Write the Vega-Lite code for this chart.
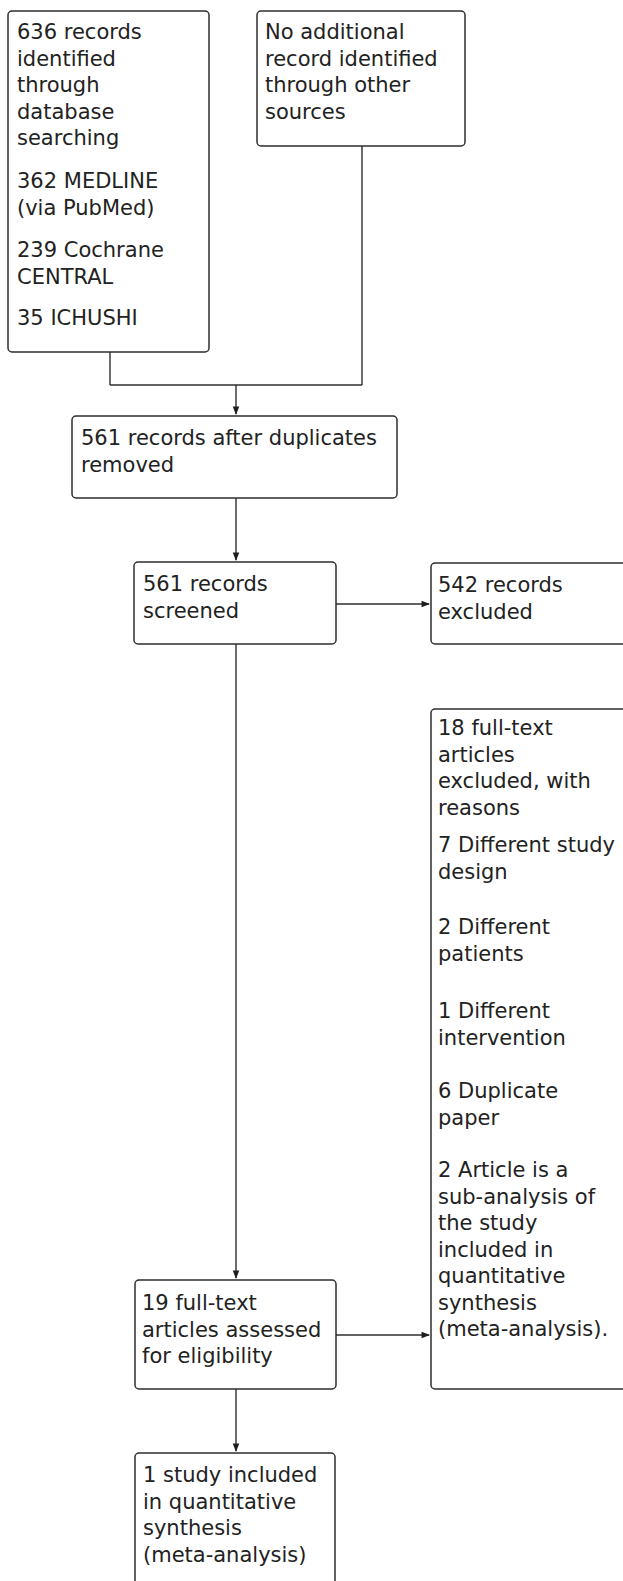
{
  "$schema": "https://vega.github.io/schema/vega-lite/v6.json",
  "width": 623,
  "height": 1581,
  "padding": 0,
  "autosize": {"type": "fit", "contains": "padding"},
  "background": "white",
  "config": {"view": {"stroke": null}},
  "datasets": {
    "boxes": [
      {"id": "db", "left": 8, "right": 209, "top": 11, "bottom": 352},
      {"id": "other", "left": 257, "right": 465, "top": 11, "bottom": 146},
      {"id": "dedup", "left": 72, "right": 397, "top": 416, "bottom": 498},
      {"id": "screened", "left": 134, "right": 336, "top": 562, "bottom": 644},
      {"id": "excluded", "left": 431, "right": 650, "top": 563, "bottom": 644},
      {"id": "ftexcluded", "left": 431, "right": 650, "top": 709, "bottom": 1389},
      {"id": "assessed", "left": 135, "right": 336, "top": 1280, "bottom": 1389},
      {"id": "included", "left": 135, "right": 335, "top": 1453, "bottom": 1610}
    ],
    "links": [
      {"xa": 110, "ya": 352, "xb": 110, "yb": 385},
      {"xa": 362, "ya": 146, "xb": 362, "yb": 385},
      {"xa": 110, "ya": 385, "xb": 362, "yb": 385},
      {"xa": 236, "ya": 385, "xb": 236, "yb": 414},
      {"xa": 236, "ya": 498, "xb": 236, "yb": 560},
      {"xa": 336, "ya": 604, "xb": 429, "yb": 604},
      {"xa": 236, "ya": 644, "xb": 236, "yb": 1278},
      {"xa": 336, "ya": 1335, "xb": 429, "yb": 1335},
      {"xa": 236, "ya": 1389, "xb": 236, "yb": 1451}
    ],
    "heads": [
      {"x": 236, "y": 415, "dir": "down"},
      {"x": 236, "y": 561, "dir": "down"},
      {"x": 430, "y": 604, "dir": "right"},
      {"x": 236, "y": 1279, "dir": "down"},
      {"x": 430, "y": 1335, "dir": "right"},
      {"x": 236, "y": 1452, "dir": "down"}
    ],
    "labels": [
      {"x": 17, "y": 39, "label": "636 records\nidentified\nthrough\ndatabase\nsearching"},
      {"x": 17, "y": 188, "label": "362 MEDLINE\n(via PubMed)"},
      {"x": 17, "y": 257, "label": "239 Cochrane\nCENTRAL"},
      {"x": 17, "y": 325, "label": "35 ICHUSHI"},
      {"x": 265, "y": 39, "label": "No additional\nrecord identified\nthrough other\nsources"},
      {"x": 81, "y": 445, "label": "561 records after duplicates\nremoved"},
      {"x": 143, "y": 591, "label": "561 records\nscreened"},
      {"x": 438, "y": 592, "label": "542 records\nexcluded"},
      {"x": 438, "y": 735, "label": "18 full-text\narticles\nexcluded, with\nreasons"},
      {"x": 438, "y": 852, "label": "7 Different study\ndesign"},
      {"x": 438, "y": 934, "label": "2 Different\npatients"},
      {"x": 438, "y": 1018, "label": "1 Different\nintervention"},
      {"x": 438, "y": 1098, "label": "6 Duplicate\npaper"},
      {"x": 438, "y": 1177, "label": "2 Article is a\nsub-analysis of\nthe study\nincluded in\nquantitative\nsynthesis\n(meta-analysis)."},
      {"x": 142, "y": 1310, "label": "19 full-text\narticles assessed\nfor eligibility"},
      {"x": 143, "y": 1482, "label": "1 study included\nin quantitative\nsynthesis\n(meta-analysis)"}
    ]
  },
  "layer": [
    {
      "data": {"name": "boxes"},
      "mark": {"type": "rect", "fill": "white", "stroke": "#2e2e2e", "strokeWidth": 1.5, "cornerRadius": 4, "clip": true},
      "encoding": {
        "x": {"field": "left", "type": "quantitative", "scale": {"domain": [0, 623], "nice": false, "zero": false}, "axis": null},
        "x2": {"field": "right"},
        "y": {"field": "top", "type": "quantitative", "scale": {"domain": [0, 1581], "nice": false, "zero": false, "reverse": true}, "axis": null},
        "y2": {"field": "bottom"}
      }
    },
    {
      "data": {"name": "links"},
      "mark": {"type": "rule", "stroke": "#2e2e2e", "strokeWidth": 1.4},
      "encoding": {
        "x": {"field": "xa", "type": "quantitative", "scale": {"domain": [0, 623], "nice": false, "zero": false}, "axis": null},
        "x2": {"field": "xb"},
        "y": {"field": "ya", "type": "quantitative", "scale": {"domain": [0, 1581], "nice": false, "zero": false, "reverse": true}, "axis": null},
        "y2": {"field": "yb"}
      }
    },
    {
      "data": {"name": "heads"},
      "mark": {"type": "point", "filled": true, "color": "#1e1e1e", "opacity": 1, "size": 42},
      "encoding": {
        "x": {"field": "x", "type": "quantitative", "scale": {"domain": [0, 623], "nice": false, "zero": false}, "axis": null},
        "y": {"field": "y", "type": "quantitative", "scale": {"domain": [0, 1581], "nice": false, "zero": false, "reverse": true}, "axis": null},
        "shape": {"field": "dir", "type": "nominal", "scale": {"domain": ["down", "right"], "range": ["M-1,-2.6L1,-2.6L0,0Z", "M-2.6,-1L-2.6,1L0,0Z"]}, "legend": null}
      }
    },
    {
      "data": {"name": "labels"},
      "mark": {"type": "text", "align": "left", "baseline": "alphabetic", "font": "DejaVu Sans", "fontSize": 21, "lineHeight": 26.5, "lineBreak": "\n", "color": "#222222"},
      "encoding": {
        "x": {"field": "x", "type": "quantitative", "scale": {"domain": [0, 623], "nice": false, "zero": false}, "axis": null},
        "y": {"field": "y", "type": "quantitative", "scale": {"domain": [0, 1581], "nice": false, "zero": false, "reverse": true}, "axis": null},
        "text": {"field": "label", "type": "nominal"}
      }
    }
  ]
}
